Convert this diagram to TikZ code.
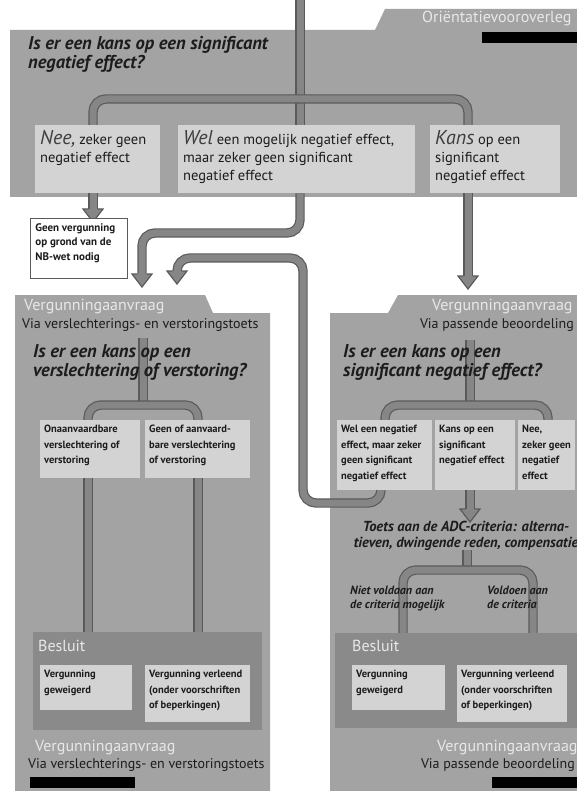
\documentclass[tikz,border=0pt]{standalone}
\usepackage{fontspec}
\setmainfont{PT Sans}
\usetikzlibrary{calc}
\definecolor{panel}{HTML}{A3A3A3}
\definecolor{boxc}{HTML}{D3D3D3}
\definecolor{band}{HTML}{8A8A8A}
\definecolor{cfill}{HTML}{868686}
\definecolor{cedge}{HTML}{5A5A5A}
\definecolor{ltext}{HTML}{E8E8E8}
\definecolor{dtext}{HTML}{1C1C1C}
\pgfdeclarelayer{bg}\pgfdeclarelayer{mid}\pgfsetlayers{bg,mid,main}
\newcommand{\bt}[3]{\parbox[c][#2pt][t]{#1pt}{\raggedright #3}}
\newcommand{\bigw}[1]{{\fontsize{20}{18}\selectfont\itshape\color{dtext!85}#1}}
\newcommand{\atip}[1]{%
  \fill[cfill] ($(#1)+(-10,-13)$) -- (#1) -- ($(#1)+(10,-13)$) -- cycle;
  \draw[cedge,line width=1.2pt,line join=miter] ($(#1)+(-4.7,-13)$) -- ($(#1)+(-10,-13)$) -- (#1) -- ($(#1)+(10,-13)$) -- ($(#1)+(4.7,-13)$);}
\tikzset{
  conn/.style={draw=cedge, line width=1.2pt, double=cfill, double distance=7pt, rounded corners=13pt},
  bx/.style={fill=boxc, inner xsep=5pt, inner ysep=5pt, anchor=north west, text=dtext},
  topbx/.style={bx, font=\fontsize{14.5}{18}\selectfont},
  lowbx/.style={bx, inner xsep=4pt, font=\fontsize{10.5}{15.5}\selectfont\bfseries},
  bandst/.style={fill=band, inner sep=0pt, anchor=north west},
  ttl/.style={text=ltext, font=\fontsize{16}{16}\selectfont, inner sep=0pt},
  sub/.style={text=dtext, font=\fontsize{14}{14}\selectfont, inner sep=0pt},
  qst/.style={text=dtext, font=\fontsize{18.5}{19}\selectfont\bfseries\itshape, align=left, inner sep=0pt, anchor=north west},
  crit/.style={text=dtext, font=\fontsize{12}{13.5}\selectfont\bfseries\itshape, align=left, inner sep=0pt, anchor=north west},
}
\begin{document}
\begin{tikzpicture}[x=1pt,y=-1pt]
\useasboundingbox (0,0) rectangle (577,791);
% ---------- panels
\begin{pgfonlayer}{bg}
\fill[white] (0,0) rectangle (577,791);
\fill[panel] (10,30) -- (375,30) -- (385,9) -- (577,9) -- (577,197) -- (10,197) -- cycle;
\fill[panel] (15,295) -- (205,295) -- (213,313) -- (270,313) -- (270,791) -- (15,791) -- cycle;
\fill[panel] (330,313) -- (388,313) -- (398,295) -- (577,295) -- (577,791) -- (330,791) -- cycle;
\end{pgfonlayer}
% ---------- top panel
\node[ttl, anchor=west] (tabT) at (422,19) {Oriëntatievooroverleg};
\fill[black] (482,32) rectangle (577,43);
\node[qst] (qT) at (28,36) {Is er een kans op een significant\\negatief effect?};
\node[topbx] (nee) at (35,125) {\bt{115}{58}{\bigw{Nee,} zeker geen\\negatief effect}};
\node[topbx] (wel) at (178,125) {\bt{227}{58}{\bigw{Wel} een mogelijk negatief effect,\\maar zeker geen significant\\negatief effect}};
\node[topbx] (kans) at (430,125) {\bt{120}{58}{\bigw{Kans} op een\\significant\\negatief effect}};
\node[bx, fill=white, draw=cedge, line width=0.8pt, font=\fontsize{11}{14.5}\selectfont\bfseries] (geen) at (30,218) {\bt{87}{50}{Geen vergunning\\op grond van de\\NB-wet nodig}};
% ---------- left panel
\node[ttl, anchor=west] (tabL) at (24,307) {Vergunningaanvraag};
\node[sub, anchor=west] (subL) at (22,325) {Via verslechterings- en verstoringstoets};
\node[qst] (qL) at (33,344) {Is er een kans op een\\verslechtering of verstoring?};
\node[lowbx] (lo1) at (40,420) {\bt{92}{48}{Onaanvaardbare\\verslechtering of\\verstoring}};
\node[lowbx] (lo2) at (145,420) {\bt{97}{48}{Geen of aanvaard-\\bare verslechtering\\of verstoring}};
\node[bandst, minimum width=229pt, minimum height=98pt] (bandL) at (33,632) {};
\node[ttl, anchor=west] (besL) at (38,646) {Besluit};
\node[lowbx] (bl1) at (40,665) {\bt{84}{35}{Vergunning\\geweigerd}};
\node[lowbx] (bl2) at (145,665) {\bt{97}{47}{Vergunning verleend\\(onder voorschriften\\of beperkingen)}};
\node[ttl, anchor=west] (botL) at (35,748) {Vergunningaanvraag};
\node[sub, anchor=west] (botsubL) at (28,765) {Via verslechterings- en verstoringstoets};
\fill[black] (30,777) rectangle (135,788);
% ---------- right panel
\node[ttl, anchor=west] (tabR) at (432,307) {Vergunningaanvraag};
\node[sub, anchor=east] (subR) at (574,325) {Via passende beoordeling};
\node[qst] (qR) at (343,344) {Is er een kans op een\\significant negatief effect?};
\node[lowbx] (rwel) at (337,420) {\bt{87}{60}{Wel een negatief\\effect, maar zeker\\geen significant\\negatief effect}};
\node[lowbx] (rkans) at (435,420) {\bt{72}{60}{Kans op een\\significant\\negatief effect}};
\node[lowbx] (rnee) at (518,420) {\bt{49}{60}{Nee,\\zeker geen\\negatief\\effect}};
\node[text=dtext, font=\fontsize{14.5}{15.5}\selectfont\bfseries\itshape, align=center, inner sep=0pt] (adc) at (466,536) {Toets aan de ADC-criteria: alterna-\\tieven, dwingende reden, compensatie};
\node[bandst, minimum width=242pt, minimum height=95pt] (bandR) at (335,633) {};
\node[crit] (nv) at (350,586) {Niet voldaan aan\\de criteria mogelijk};
\node[crit] (vd) at (487,586) {Voldoen aan\\de criteria};
\node[ttl, anchor=west] (besR) at (352,646) {Besluit};
\node[lowbx] (br1) at (352,665) {\bt{85}{35}{Vergunning\\geweigerd}};
\node[lowbx] (br2) at (457,665) {\bt{102}{47}{Vergunning verleend\\(onder voorschriften\\of beperkingen)}};
\node[ttl, anchor=west] (botR) at (437,748) {Vergunningaanvraag};
\node[sub, anchor=east] (botsubR) at (575,765) {Via passende beoordeling};
\fill[black] (492,777) rectangle (577,788);
% ---------- coordinates
\coordinate (tin) at (300,0);
\coordinate (bT) at (300,99);
\coordinate (xL) at (93,0);
\coordinate (xR) at (468,0);
\coordinate (tG) at ($(geen.north -| xL)+(0,4)$);
\coordinate (hA) at (142,233);
\coordinate (tA) at (142,287);
\coordinate (bxB) at (381,0);
\coordinate (vB) at (303,503);
\coordinate (hB) at (177,258);
\coordinate (tB) at (177,284);
\coordinate (tK) at (468,289);
\coordinate (sL) at (143,338);
\coordinate (bL) at (143,405);
\coordinate (xL1) at (88,0);
\coordinate (xL2) at (198,0);
\coordinate (sR) at (470,340);
\coordinate (bR) at (470,405);
\coordinate (xR1) at (385,0);
\coordinate (xR2) at (548,0);
\coordinate (tC) at (470,522);
\coordinate (sA) at (467,550);
\coordinate (bA) at (467,570);
\coordinate (xA1) at (403,0);
\coordinate (xA2) at (533,0);
% ---------- connectors
\begin{pgfonlayer}{mid}
\draw[conn] (tin) -- (tin |- wel.north);
\draw[conn] (nee.north -| xL) |- (bT) -| (kans.north -| xR);
\draw[conn] (nee.south -| xL) -- ($(tG)+(0,-12)$);
\atip{tG}
\draw[conn] (wel.south -| tin) |- (hA) -- ($(tA)+(0,-12)$);
\atip{tA}
\draw[conn] (rwel.south -| bxB) |- (vB) |- (hB) -- ($(tB)+(0,-12)$);
\atip{tB}
\draw[conn] (kans.south -| xR) -- ($(tK)+(0,-12)$);
\atip{tK}
% left panel
\draw[conn] (sL) -- (bL);
\draw[conn] (lo1.north -| xL1) |- (bL) -| (lo2.north -| xL2);
\draw[conn] (lo1.south -| xL1) -- (bandL.north -| xL1);
\draw[conn] (lo2.south -| xL2) -- (bandL.north -| xL2);
% right panel
\draw[conn] (sR) -- (bR);
\draw[conn] (rwel.north -| xR1) |- (bR) -| (rnee.north -| xR2);
\draw[conn] (rkans.south -| sR) -- ($(tC)+(0,-12)$);
\atip{tC}
\draw[conn] (sA) -- (bA);
\draw[conn] (bandR.north -| xA1) |- (bA) -| (bandR.north -| xA2);
\end{pgfonlayer}
\end{tikzpicture}
\end{document}
